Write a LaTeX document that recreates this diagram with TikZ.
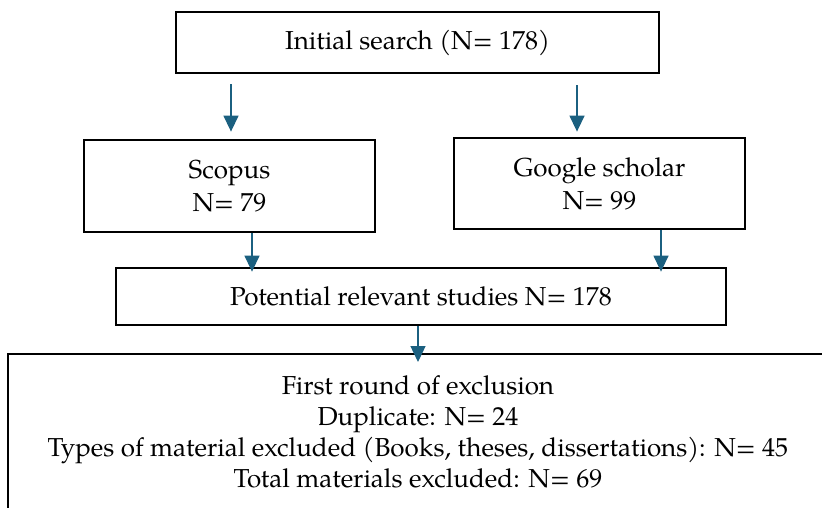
\documentclass[tikz,border=0pt]{standalone}
\usepackage{fontspec}
\setmainfont{texgyrepagella-regular.otf}
\usetikzlibrary{arrows.meta}
\definecolor{arrowblue}{RGB}{27,96,128}
\begin{document}
\begin{tikzpicture}[x=1pt,y=-1pt,
  box/.style={draw=black,line width=2.8pt,inner sep=0pt,align=center,font=\fontsize{26}{33}\selectfont},
  lbl/.style={inner sep=0pt,align=center,font=\fontsize{26}{31}\selectfont},
  frame/.style={draw=black,line width=2.8pt},
  arr/.style={draw=arrowblue,line width=1.4pt,-{Triangle[length=16pt,width=15pt]}}]
\useasboundingbox (0,0) rectangle (822,507);
\node[box,minimum width=483pt,minimum height=61pt] (init) at (417.5,42.5) {Initial search (N= 178)};
\node[box,minimum width=291pt,minimum height=92pt] (scopus) at (229.5,186) {Scopus\\N= 79};
\node[box,minimum width=291pt,minimum height=91pt] (google) at (599.5,183.5) {Google scholar\\N= 99};
\node[box,minimum width=610pt,minimum height=57pt] (pot) at (421,296.5) {Potential relevant studies N= 178};
\coordinate (bl) at (8,520);
\coordinate (tl) at (8,354);
\coordinate (tr) at (830,354);
\coordinate (btop) at (418,354);
\draw[frame] (bl) -- (tl) -- (tr);
\node[lbl] (excl) at (418,432) {First round of exclusion\\Duplicate: N= 24\\Types of material excluded (Books, theses, dissertations): N= 45\\Total materials excluded: N= 69};
\coordinate (xa) at (231,0);
\coordinate (xb) at (577,0);
\coordinate (xc) at (252,0);
\coordinate (xd) at (661,0);
\coordinate (xe) at (418,0);
\draw[arr] ([yshift=-10pt]init.south -| xa) -- ([yshift=7pt]scopus.north -| xa);
\draw[arr] ([yshift=-11pt]init.south -| xb) -- ([yshift=5pt]google.north -| xb);
\draw[arr] (scopus.south -| xc) -- ([yshift=-5pt]pot.north -| xc);
\draw[arr] (google.south -| xd) -- ([yshift=-5pt]pot.north -| xd);
\draw[arr] (pot.south -| xe) -- ([yshift=-8pt]btop);
\end{tikzpicture}
\end{document}
